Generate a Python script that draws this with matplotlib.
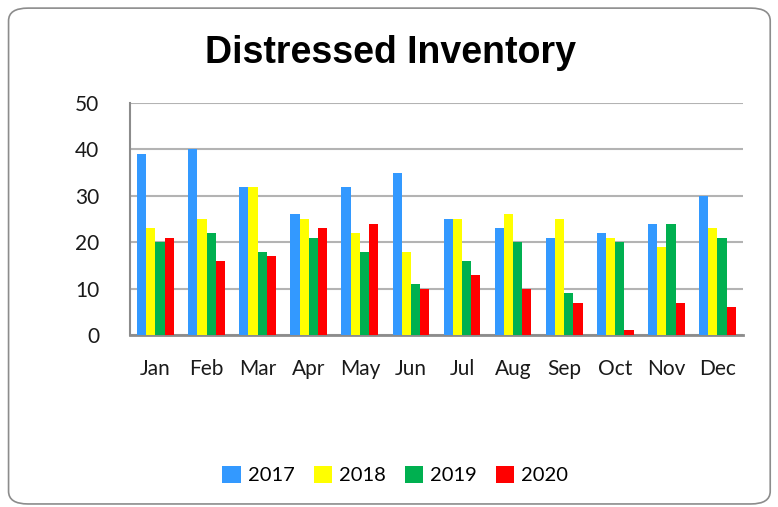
import matplotlib.pyplot as plt
import numpy as np
from matplotlib.patches import FancyBboxPatch

months = ["Jan", "Feb", "Mar", "Apr", "May", "Jun", "Jul", "Aug", "Sep", "Oct", "Nov", "Dec"]
years = ["2017", "2018", "2019", "2020"]
v2017 = [39, 40, 32, 26, 32, 35, 25, 23, 21, 22, 24, 30]
v2018 = [23, 25, 32, 25, 22, 18, 25, 26, 25, 21, 19, 23]
v2019 = [20, 22, 18, 21, 18, 11, 16, 20, 9, 20, 24, 21]
v2020 = [21, 16, 17, 23, 24, 10, 13, 10, 7, 1, 7, 6]
colors = ["#3399ff", "#ffff00", "#00b050", "#ff0000"]

plt.rcParams["font.family"] = ["Lato", "DejaVu Sans"]

fig = plt.figure(figsize=(7.78, 5.07), dpi=100)
ax = fig.add_axes([0.167, 0.339, 0.788, 0.458])

# rounded border around the whole chart
border = FancyBboxPatch((0.011, 0.006), 0.979, 0.978, boxstyle="round,pad=0,rounding_size=0.025",
                        transform=fig.transFigure, fill=False, edgecolor="#8c8c8c", linewidth=1.2)
fig.patches.append(border)

x = np.arange(len(months))
w = 0.18
for i, (vals, c, yr) in enumerate(zip([v2017, v2018, v2019, v2020], colors, years)):
    ax.bar(x + (i - 1.5) * w, vals, w, color=c, label=yr, zorder=3)

ax.set_xlim(-0.5, 11.5)
ax.set_ylim(0, 50)
ax.set_yticks(range(0, 51, 10))
ax.set_xticks(x)
ax.set_xticklabels(months)
ax.yaxis.grid(True, color="#b3b3b3", linewidth=1.5, zorder=0)
ax.tick_params(length=0, labelsize=15, colors="#1a1a1a")
ax.tick_params(axis="x", pad=17)
ax.tick_params(axis="y", pad=22)
for s in ["top", "right"]:
    ax.spines[s].set_visible(False)
ax.spines["left"].set_color("#8c8c8c")
ax.spines["left"].set_linewidth(1.5)
ax.spines["bottom"].set_color("#8c8c8c")
ax.spines["bottom"].set_linewidth(2)

fig.text(0.502, 0.895, "Distressed Inventory", ha="center", va="center",
         fontsize=27, fontweight="bold", family=["Liberation Sans", "DejaVu Sans"])

fig.legend(loc="center", bbox_to_anchor=(0.508, 0.063), ncol=4, frameon=False,
           fontsize=14.5, handlelength=0.9, handleheight=0.9, handletextpad=0.35, columnspacing=0.95)

fig.savefig("out.png", dpi=100)
